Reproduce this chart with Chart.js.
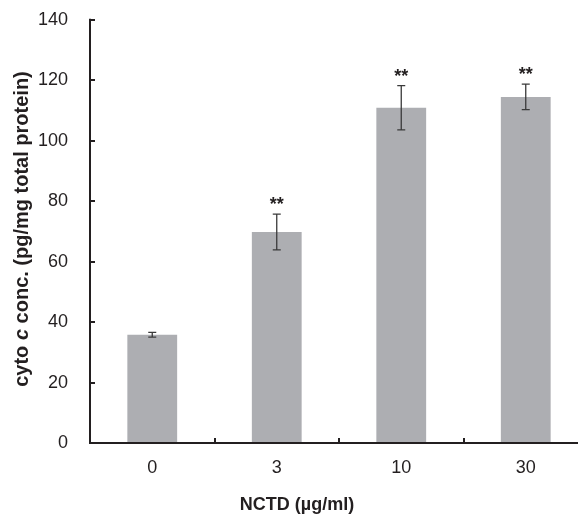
<!DOCTYPE html>
<html>
<head>
<meta charset="utf-8">
<script src="https://cdn.jsdelivr.net/npm/chart.js@4/dist/chart.umd.min.js"></script>
<style>
  html,body{margin:0;padding:0;background:#fff;overflow:hidden;}
  #wrap{width:600px;height:521px;margin-top:-5px;}
</style>
</head>
<body>
<div id="wrap"><canvas id="c" width="600" height="521"></canvas></div>
<script>
/* ---- data ------------------------------------------------------------ */
const DOSES  = ["0", "3", "10", "30"];
const CYTO_C = [35.8, 69.8, 110.9, 114.5];
const SD     = [0.8, 5.9, 7.3, 4.2];
const SIG    = ["", "**", "**", "**"];
const Y_MIN = 0, Y_MAX = 140, Y_STEP = 20;

const INK = "#231f20", BAR = "#adaeb2";
const FONT = "'Liberation Sans', Arial, sans-serif";

/* ---- plugin: axes ticks, error bars, stars, titles ------------------- */
const extras = {
  id: "extras",
  afterDatasetsDraw(chart){
    const ctx = chart.ctx, x = chart.scales.x, y = chart.scales.y;
    const a = chart.chartArea;
    ctx.save();

    // error bars
    ctx.strokeStyle = "#3a3a3a"; ctx.lineWidth = 1.3;
    CYTO_C.forEach((v,i)=>{
      const px = x.getPixelForValue(i);
      const t = y.getPixelForValue(v+SD[i]), b = y.getPixelForValue(v-SD[i]);
      ctx.beginPath();
      ctx.moveTo(px, t); ctx.lineTo(px, b);
      ctx.moveTo(px-4, t); ctx.lineTo(px+4, t);
      ctx.moveTo(px-4, b); ctx.lineTo(px+4, b);
      ctx.stroke();
    });

    // significance stars
    ctx.fillStyle = INK; ctx.font = "bold 18px "+FONT;
    ctx.textAlign = "center"; ctx.textBaseline = "alphabetic";
    SIG.forEach((s,i)=>{
      if(!s) return;
      const px = x.getPixelForValue(i);
      const t = y.getPixelForValue(CYTO_C[i]+SD[i]);
      ctx.fillText(s, px, t-4);
    });

    // axis lines + inward ticks
    ctx.strokeStyle = INK; ctx.lineWidth = 2;
    ctx.beginPath();
    ctx.moveTo(a.left, a.top-1); ctx.lineTo(a.left, a.bottom);
    ctx.lineTo(a.right, a.bottom);
    y.ticks.forEach(tk=>{
      const py = Math.round(y.getPixelForValue(tk.value));
      ctx.moveTo(a.left, py); ctx.lineTo(a.left+5, py);
    });
    const step = x.getPixelForValue(1) - x.getPixelForValue(0);
    for(let i=0; i<DOSES.length-1; i++){
      const px = Math.round(x.getPixelForValue(i) + step/2);
      ctx.moveTo(px, a.bottom); ctx.lineTo(px, a.bottom-5);
    }
    ctx.stroke();

    // x title
    ctx.font = "bold 18px "+FONT; ctx.textBaseline = "middle";
    ctx.fillText("NCTD (\u00b5g/ml)", 297, 510);

    // y title with italic "c"
    const parts = [["cyto ", "bold 20px "], ["c", "italic bold 20px "], [" conc. (pg/mg total protein)", "bold 20px "]];
    let w = 0;
    parts.forEach(p=>{ ctx.font = p[1]+FONT; w += ctx.measureText(p[0]).width; });
    ctx.translate(22, 234); ctx.rotate(-Math.PI/2);
    ctx.textAlign = "left";
    let cx = -w/2;
    parts.forEach(p=>{ ctx.font = p[1]+FONT; ctx.fillText(p[0], cx, 0); cx += ctx.measureText(p[0]).width; });

    ctx.restore();
  }
};

/* ---- chart ----------------------------------------------------------- */
new Chart(document.getElementById("c"), {
  type: "bar",
  data: {
    labels: DOSES,
    datasets: [{ data: CYTO_C, backgroundColor: BAR, borderWidth: 0,
      categoryPercentage: 1.0, barPercentage: 0.4 }]
  },
  options: {
    responsive: false, animation: false,
    layout: { padding: { top: 3, right: 12, left: 0, bottom: 0 } },
    plugins: { legend: { display: false }, tooltip: { enabled: false } },
    scales: {
      x: {
        grid: { display: false }, border: { display: false },
        ticks: { color: INK, font: { family: FONT, size: 18 }, padding: 6 },
        afterFit: s => { s.height = 73; }
      },
      y: {
        min: Y_MIN, max: Y_MAX,
        grid: { display: false }, border: { display: false },
        ticks: { stepSize: Y_STEP, color: INK, font: { family: FONT, size: 18 }, padding: 14 },
        afterFit: s => { s.width = 90; }
      }
    }
  },
  plugins: [extras]
});
</script>
</body>
</html>
